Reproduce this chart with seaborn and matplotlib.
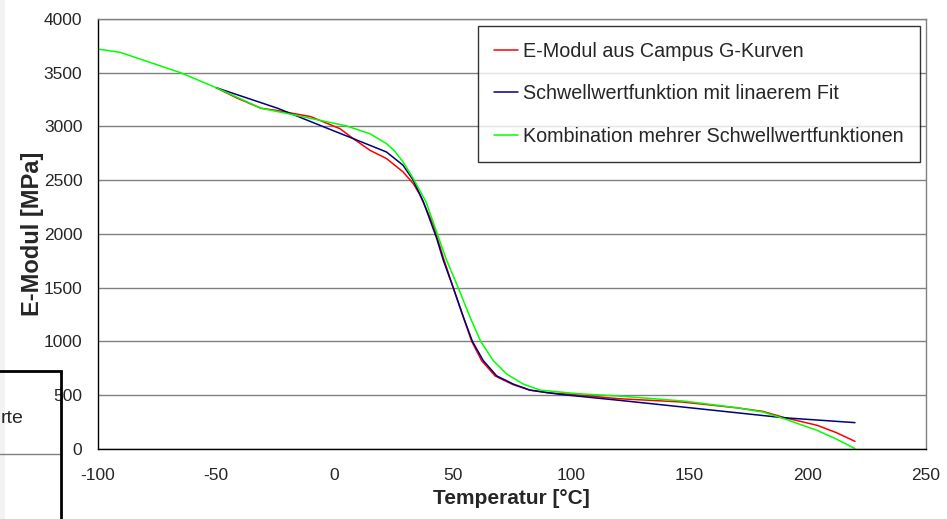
import numpy as np
import pandas as pd
import matplotlib
matplotlib.use("Agg")
import matplotlib.pyplot as plt
import seaborn as sns
from matplotlib.patches import Rectangle
from matplotlib.lines import Line2D

# values (Temperatur in °C, E-Modul in MPa)
temp_campus = [-50, -41, -31, -24, -10, -6, 2.4, 8, 15, 22, 29, 33.3, 36.2, 41.8, 46, 50.2, 54.5,
               58.0, 62.2, 67.9, 75.6, 82.6, 90, 100, 120, 147, 170, 181, 190, 204, 212, 220]
emod_campus = [3360, 3262, 3169, 3147, 3091, 3055, 2978, 2886, 2778, 2701, 2577, 2469, 2361, 2083, 1780, 1500, 1225,
               1000, 820, 677, 595, 545, 520, 505, 465, 434, 380, 347, 290, 217, 150, 68]

temp_linfit = [-50, -24, -6, 8, 22, 29, 33.3, 37.6, 43.2, 46.0, 50.2, 54.5, 58.3, 62.9, 68.6, 75.6,
               82.6, 95.4, 120.7, 147.4, 189.7, 220]
emod_linfit = [3361, 3169, 3009, 2886, 2762, 2639, 2500, 2299, 1960, 1756, 1500, 1225, 1000, 820, 677, 601,
               545, 505, 449, 387, 288, 242]

temp_kombi = [-100, -90.6, -81, -65, -50, -41, -31, -17, 5, 15, 22, 25.5, 29, 33.3, 38.7, 44.6, 47.4, 52.3,
              57.3, 61.8, 67.1, 72.8, 79.8, 86.9, 102.4, 120.7, 147.4, 170, 181, 190, 204, 212, 220]
emod_kombi = [3720, 3690, 3619, 3500, 3361, 3270, 3169, 3107, 3005, 2932, 2840, 2770, 2670, 2516, 2299, 1929, 1756, 1500,
              1225, 1000, 820, 695, 601, 545, 512, 489, 443, 381, 341, 279, 170, 90, 0]

labels = ["E-Modul aus Campus G-Kurven",
          "Schwellwertfunktion mit linaerem Fit",
          "Kombination mehrer Schwellwertfunktionen"]
colors = ["#ff0000", "#000080", "#00ff00"]

df = pd.concat([
    pd.DataFrame({"T": temp_campus, "E": emod_campus, "Kurve": labels[0]}),
    pd.DataFrame({"T": temp_linfit, "E": emod_linfit, "Kurve": labels[1]}),
    pd.DataFrame({"T": temp_kombi, "E": emod_kombi, "Kurve": labels[2]}),
])

sns.set_style("white")
plt.rcParams["font.family"] = ["Liberation Sans", "DejaVu Sans"]
plt.rcParams["axes.unicode_minus"] = False

fig = plt.figure(figsize=(9.47, 5.19), dpi=100)
ax = fig.add_axes([0.1032, 0.1356, 0.8746, 0.8278])

sns.lineplot(data=df, x="T", y="E", hue="Kurve", palette=colors, sort=False,
             estimator=None, linewidth=1.1, legend=False, ax=ax)

ax.set_xlim(-100, 250)
ax.set_ylim(0, 4000)
ax.set_xticks(np.arange(-100, 251, 50))
ax.set_yticks(np.arange(0, 4001, 500))
ax.yaxis.grid(True, color="#808080", linewidth=1)
ax.xaxis.grid(False)
ax.set_axisbelow(True)
for side in ["left", "bottom"]:
    ax.spines[side].set_color("black")
    ax.spines[side].set_linewidth(1)
for side in ["right", "top"]:
    ax.spines[side].set_color("#808080")
    ax.spines[side].set_linewidth(1)
ax.tick_params(direction="out", length=5, width=1, color="black", labelsize=12.5)
ax.tick_params(axis="x", pad=9)
ax.tick_params(axis="y", pad=6)

ax.set_xlabel("Temperatur [°C]", fontsize=15, fontweight="bold", labelpad=4)
ax.set_ylabel("E-Modul [MPa]", fontsize=17, fontweight="bold", labelpad=0)

handles = [Line2D([], [], color=c, linewidth=1.1) for c in colors]
leg = ax.legend(handles, labels, loc="upper left", bbox_to_anchor=(0.459, 0.674, 0.534, 0.31),
                mode="expand", fontsize=14.2, frameon=True, fancybox=False, handlelength=1.25,
                handletextpad=0.25, labelspacing=1.2, borderpad=0.8, borderaxespad=0)
leg.get_frame().set_edgecolor("black")
leg.get_frame().set_linewidth(1)

# remains of a neighbouring chart at the left edge
fig.patches.append(Rectangle((0, 0), 5 / 947, 1, transform=fig.transFigure,
                             facecolor="#f2f2f2", edgecolor="none", zorder=0))
fig.patches.append(Rectangle((-0.01, -0.05), 61 / 947 + 0.01, (519 - 371) / 519 + 0.05,
                             transform=fig.transFigure, facecolor="none",
                             edgecolor="black", linewidth=2, zorder=5))
fig.lines.append(Line2D([0, 60 / 947], [(519 - 454) / 519] * 2, transform=fig.transFigure,
                        color="#808080", linewidth=1))
fig.text(1 / 947, (519 - 423) / 519, "rte", fontsize=14, ha="left", va="baseline")

fig.savefig("out.png", dpi=100)
